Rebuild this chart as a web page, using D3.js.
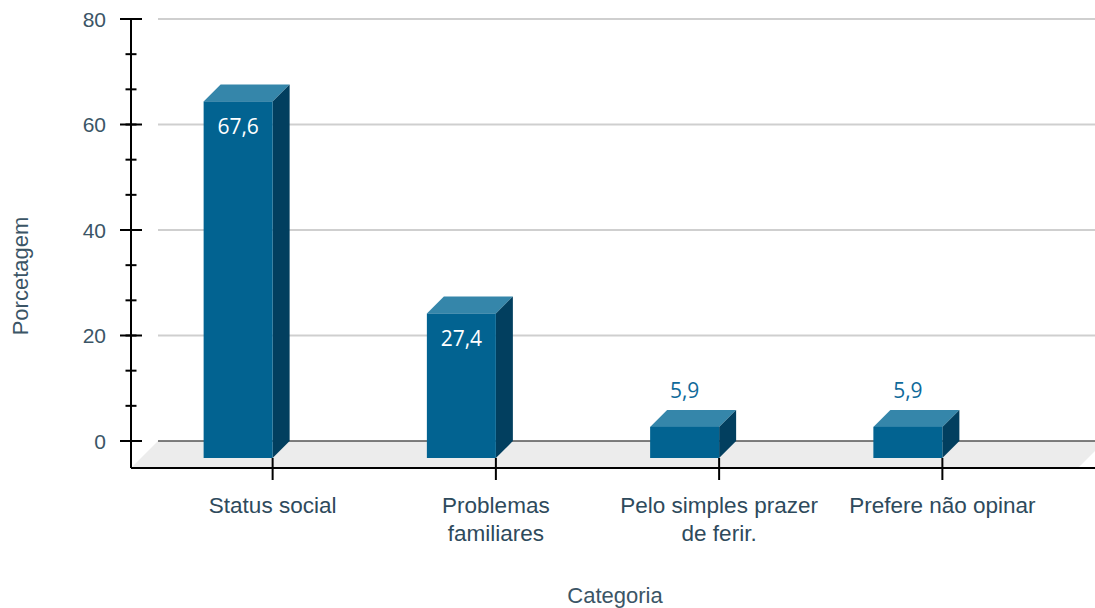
<!DOCTYPE html>
<html>
<head>
<meta charset="utf-8">
<script src="https://cdn.jsdelivr.net/npm/d3@7"></script>
<style>
  body { margin: 0; background: #fff; }
  svg { display: block; }
  .tick-label { font-family: "Liberation Sans", Arial, sans-serif; font-size: 21px; fill: #3b5566; }
  .cat-label { font-family: "Liberation Sans", Arial, sans-serif; font-size: 22.5px; fill: #2e4a5c; }
  .axis-title { font-family: "Liberation Sans", Arial, sans-serif; font-size: 22px; fill: #3b5566; }
  .value { font-family: "Open Sans", sans-serif; font-size: 21px; }
</style>
</head>
<body>
<svg></svg>
<script>
const categories = ["Status social", "Problemas familiares", "Pelo simples prazer de ferir.", "Prefere não opinar"]
const catLines = [["Status social"], ["Problemas", "familiares"], ["Pelo simples prazer", "de ferir."], ["Prefere não opinar"]]
const values = [67.6, 27.4, 5.9, 5.9]
const valueLabels = ["67,6", "27,4", "5,9", "5,9"]
const yTicks = [0, 20, 40, 60, 80]

const W = 1095, H = 608
const depth = 17 // bar 3d offset
const floorDepth = 27

const svg = d3.select("svg")
	.attr("width", W)
	.attr("height", H)

const y = d3.scaleLinear()
	.domain([0, 80])
	.range([441, 19])

const x = d3.scaleBand()
	.domain(categories)
	.range([161, 1054])

const axisX = 131
const plotLeft = 158

// grid lines
svg.selectAll("line.grid")
	.data(yTicks.filter(d => d > 0))
	.enter()
	.append("line")
	.attr("x1", plotLeft)
	.attr("x2", W)
	.attr("y1", d => y(d))
	.attr("y2", d => y(d))
	.attr("stroke", "#cfcfcf")
	.attr("stroke-width", 2)

// floor
svg.append("path")
	.attr("d", `M${plotLeft},${y(0)} L${W + 10},${y(0)} L${W + 10 - floorDepth},${y(0) + floorDepth} L${axisX},${y(0) + floorDepth} Z`)
	.attr("fill", "#ececec")

svg.append("line")
	.attr("x1", plotLeft)
	.attr("x2", W)
	.attr("y1", y(0))
	.attr("y2", y(0))
	.attr("stroke", "#555")
	.attr("stroke-width", 1.5)

// y axis
const minorTicks = d3.range(0, 80.01, 20 / 3)
svg.append("line")
	.attr("x1", axisX).attr("x2", axisX)
	.attr("y1", y(80)).attr("y2", y(0) + floorDepth)
	.attr("stroke", "#000").attr("stroke-width", 2)

svg.selectAll("line.minor")
	.data(minorTicks)
	.enter()
	.append("line")
	.attr("x1", axisX - 5.5).attr("x2", axisX + 5.5)
	.attr("y1", d => y(d)).attr("y2", d => y(d))
	.attr("stroke", "#000").attr("stroke-width", 2)

svg.selectAll("line.major")
	.data(yTicks)
	.enter()
	.append("line")
	.attr("x1", axisX - 11).attr("x2", axisX + 11)
	.attr("y1", d => y(d)).attr("y2", d => y(d))
	.attr("stroke", "#000").attr("stroke-width", 2)

svg.selectAll("text.tick-label")
	.data(yTicks)
	.enter()
	.append("text")
	.attr("class", "tick-label")
	.attr("x", 106)
	.attr("y", d => y(d) + 7.5)
	.attr("text-anchor", "end")
	.text(d => d)

// x axis
const baseY = y(0) + floorDepth
svg.append("line")
	.attr("x1", axisX).attr("x2", W)
	.attr("y1", baseY).attr("y2", baseY)
	.attr("stroke", "#000").attr("stroke-width", 2)

const cx = d => x(d) + x.bandwidth() / 2

svg.selectAll("line.xtick")
	.data(categories)
	.enter()
	.append("line")
	.attr("x1", d => cx(d)).attr("x2", d => cx(d))
	.attr("y1", y(0) + depth).attr("y2", baseY + 12)
	.attr("stroke", "#000").attr("stroke-width", 2)

// bars
const barW = 69
const bars = svg.selectAll("g.bar")
	.data(categories.map((c, i) => ({ c, v: values[i], label: valueLabels[i] })))
	.enter()
	.append("g")
	.attr("class", "bar")

// front face sits left/below the back face by depth
const fx = d => cx(d.c) - barW  // front face left
bars.append("path") // top
	.attr("d", d => {
		const t = y(d.v)
		return `M${fx(d)},${t + depth} L${fx(d) + depth},${t} L${fx(d) + barW + depth},${t} L${fx(d) + barW},${t + depth} Z`
	})
	.attr("fill", "#3586aa")

bars.append("path") // side
	.attr("d", d => {
		const t = y(d.v), b = y(0)
		return `M${fx(d) + barW},${t + depth} L${fx(d) + barW + depth},${t} L${fx(d) + barW + depth},${b} L${fx(d) + barW},${b + depth} Z`
	})
	.attr("fill", "#023f5f")

bars.append("rect") // front
	.attr("x", d => fx(d))
	.attr("y", d => y(d.v) + depth)
	.attr("width", barW)
	.attr("height", d => y(0) - y(d.v))
	.attr("fill", "#026391")

bars.append("text")
	.attr("class", "value")
	.attr("x", d => fx(d) + barW / 2)
	.attr("y", d => d.v > 15 ? y(d.v) + depth + 33 : y(d.v) - 12)
	.attr("text-anchor", "middle")
	.attr("fill", d => d.v > 15 ? "#fff" : "#0f6a9a")
	.text(d => d.label)

// category labels
const catText = svg.selectAll("text.cat-label")
	.data(categories)
	.enter()
	.append("text")
	.attr("class", "cat-label")
	.attr("text-anchor", "middle")
	.attr("x", d => cx(d))
	.attr("y", 513)

catText.selectAll("tspan")
	.data((d, i) => catLines[i])
	.enter()
	.append("tspan")
	.attr("x", function () { return d3.select(this.parentNode).attr("x") })
	.attr("dy", (d, i) => i === 0 ? 0 : 28)
	.text(d => d)

// axis titles
svg.append("text")
	.attr("class", "axis-title")
	.attr("x", 615)
	.attr("y", 603)
	.attr("text-anchor", "middle")
	.text("Categoria")

svg.append("text")
	.attr("class", "axis-title")
	.attr("transform", "translate(28, 276) rotate(-90)")
	.attr("text-anchor", "middle")
	.text("Porcetagem")
</script>
</body>
</html>
